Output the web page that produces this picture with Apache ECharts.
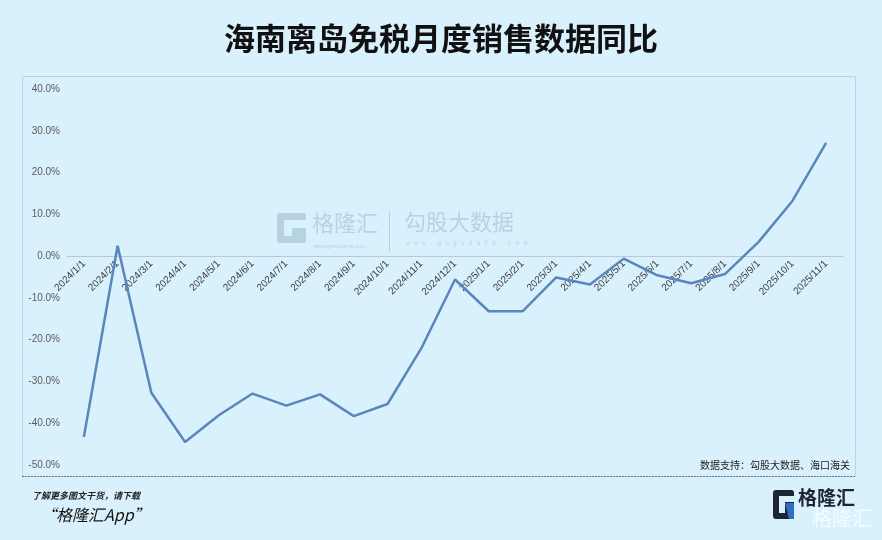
<!DOCTYPE html>
<html>
<head>
<meta charset="utf-8">
<script src="https://cdn.jsdelivr.net/npm/echarts@6/dist/echarts.min.js"></script>
<style>
  html, body { margin: 0; padding: 0; background: #d9f1fc; }
  #chart { width: 882px; height: 540px; }
</style>
</head>
<body>
<div id="chart"></div>
<script>
const months = [
  '2024/1/1', '2024/2/1', '2024/3/1', '2024/4/1', '2024/5/1', '2024/6/1',
  '2024/7/1', '2024/8/1', '2024/9/1', '2024/10/1', '2024/11/1', '2024/12/1',
  '2025/1/1', '2025/2/1', '2025/3/1', '2025/4/1', '2025/5/1', '2025/6/1',
  '2025/7/1', '2025/8/1', '2025/9/1', '2025/10/1', '2025/11/1'
];
const yoy = [
  -43.3, 2.5, -32.7, -44.5, -38.1, -32.9,
  -35.8, -33.1, -38.3, -35.4, -22.1, -5.6,
  -13.2, -13.2, -5.1, -6.8, -0.6, -4.6,
  -6.5, -4.3, 3.4, 13.2, 27.1
];
const yTicks = { min: -50, max: 40, step: 10 };

const gridTop = 89, gridBottom = 75, H = 540;
// move the category axis up to the 0% line (labels follow it)
const plotH = H - gridTop - gridBottom;
const zeroOffset = -plotH * (0 - yTicks.min) / (yTicks.max - yTicks.min);

const wm = 'rgba(140,175,200,0.45)';

const chart = echarts.init(document.getElementById('chart'));
chart.setOption({
  backgroundColor: '#d9f1fc',
  animation: false,
  title: {
    text: '海南离岛免税月度销售数据同比',
    left: 'center',
    top: 18,
    textStyle: {
      fontFamily: 'Noto Sans CJK SC',
      fontSize: 31,
      fontWeight: 'bold',
      color: '#111'
    }
  },
  grid: { left: 67, right: 39, top: gridTop, bottom: gridBottom },
  xAxis: {
    type: 'category',
    data: months,
    boundaryGap: true,
    offset: zeroOffset,
    axisLine: { onZero: false, lineStyle: { color: '#b4cadb', width: 1 } },
    axisTick: { inside: true, length: 4, lineStyle: { color: '#b4cadb' } },
    axisLabel: {
      rotate: 45,
      interval: 0,
      margin: 6,
      fontFamily: 'Liberation Sans',
      fontSize: 10,
      color: '#3d3d3d'
    }
  },
  yAxis: {
    type: 'value',
    min: yTicks.min,
    max: yTicks.max,
    interval: yTicks.step,
    axisLine: { show: false },
    axisTick: { show: false },
    splitLine: { show: false },
    axisLabel: {
      margin: 7,
      fontFamily: 'Liberation Sans',
      fontSize: 10,
      color: '#5a5a5a',
      formatter: v => v.toFixed(1) + '%'
    }
  },
  series: [{
    type: 'line',
    data: yoy,
    showSymbol: false,
    lineStyle: { color: '#5a86bd', width: 2.5 },
    z: 5
  }],
  graphic: [
    // plot frame
    { type: 'rect', shape: { x: 22.5, y: 76.5, width: 833, height: 400 },
      style: { fill: 'none', stroke: '#bdd2e0', lineWidth: 1 }, z: -1 },
    { type: 'line', shape: { x1: 22, y1: 476.5, x2: 856, y2: 476.5 },
      style: { stroke: '#6a7885', lineWidth: 1, lineDash: [2, 1] } },
    // watermark
    { type: 'rect', shape: { x: 277, y: 213, width: 29, height: 30, r: 3 },
      style: { fill: wm } },
    { type: 'rect', shape: { x: 284, y: 220, width: 22, height: 8 },
      style: { fill: '#d9f1fc' } },
    { type: 'rect', shape: { x: 284, y: 228, width: 8, height: 8 },
      style: { fill: '#d9f1fc' } },
    { type: 'text', x: 312, y: 212,
      style: { text: '格隆汇', fontFamily: 'Noto Sans CJK SC', fontSize: 22, fill: wm } },
    { type: 'text', x: 313, y: 243,
      style: { text: 'www.gelonghui.com', fontFamily: 'Liberation Sans', fontSize: 6, fill: wm } },
    { type: 'line', shape: { x1: 389.5, y1: 211, x2: 389.5, y2: 252 },
      style: { stroke: wm, lineWidth: 1 } },
    { type: 'text', x: 404, y: 211,
      style: { text: '勾股大数据', fontFamily: 'Noto Sans CJK SC', fontSize: 22, fill: wm } },
    { type: 'text', x: 406, y: 240,
      style: { text: 'w w w . g o g u d a t a . c o m', fontFamily: 'DejaVu Sans Mono', fontSize: 6.5, fill: wm } },
    // source
    { type: 'text', right: 32, top: 460,
      style: { text: '数据支持：勾股大数据、海口海关', fontFamily: 'Noto Sans CJK SC', fontSize: 10, fill: '#222' } },
    // footer left
    { type: 'text', x: 32, y: 491,
      style: { text: '了解更多图文干货，请下载', fontFamily: 'Noto Sans CJK SC', fontSize: 9,
        fontWeight: 'bold', fontStyle: 'italic', fill: '#222' } },
    { type: 'text', x: 40, y: 507,
      style: { text: '“格隆汇App”', fontFamily: 'Noto Sans CJK SC', fontSize: 16,
        fontStyle: 'italic', fill: '#111' } },
    // footer right logo
    { type: 'text', x: 812, y: 508,
      style: { text: '格隆汇', fontFamily: 'Noto Sans CJK SC', fontSize: 20,
        fill: 'rgba(255,255,255,0.75)' } },
    { type: 'rect', shape: { x: 773, y: 490, width: 21, height: 29, r: 3 },
      style: { fill: '#1d2433' } },
    { type: 'rect', shape: { x: 779, y: 496, width: 15, height: 6 },
      style: { fill: '#d9f1fc' } },
    { type: 'rect', shape: { x: 779, y: 502, width: 6, height: 11 },
      style: { fill: '#d9f1fc' } },
    { type: 'polygon', shape: { points: [[785, 503], [794, 503], [794, 519], [789, 519]] },
      style: { fill: '#2f6fc1' } },
    { type: 'text', x: 798, y: 488,
      style: { text: '格隆汇', fontFamily: 'Noto Sans CJK SC', fontSize: 19, fontWeight: 'bold', fill: '#1d2433' } }
  ]
});
</script>
</body>
</html>
